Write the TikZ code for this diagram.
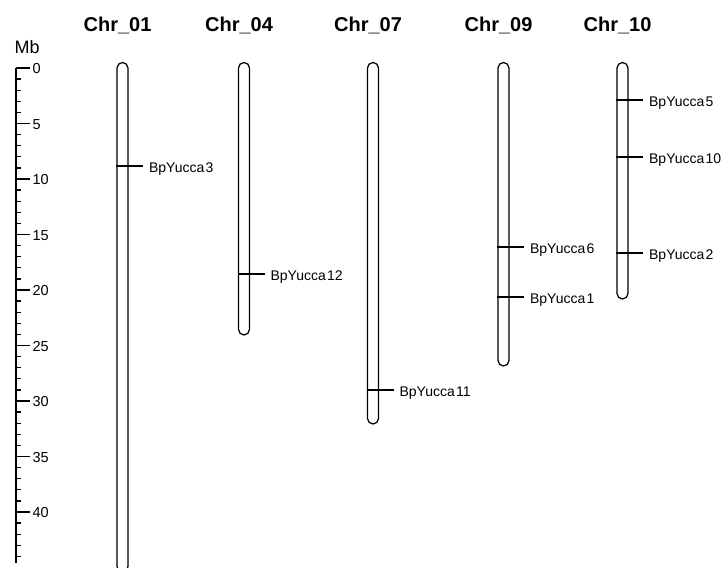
\documentclass[tikz,border=0pt]{standalone}
\usepackage{fontspec}
\setmainfont{Liberation Sans}
\begin{document}
\begin{tikzpicture}[x=1pt,y=-1pt,line width=1.25pt,
  chrom/.style={draw,rounded corners=5.5pt,minimum width=11pt,inner sep=0pt},
  gene/.style={anchor=base west,inner xsep=5.5pt,inner ysep=0pt,font=\fontsize{14}{16}\selectfont},
  chrname/.style={anchor=base,inner sep=0pt,font=\fontsize{20}{22}\selectfont\bfseries},
  ticklab/.style={anchor=base west,inner sep=0pt,font=\fontsize{14.5}{16}\selectfont}]
\path[use as bounding box] (0,0) rectangle (724,568);
\clip (0,0) rectangle (724,568);

% scale bar in Mb (11.1 units per Mb, 0 at y=68)
\node[anchor=base west,inner sep=0pt,font=\fontsize{18}{20}\selectfont] (mb) at (14,53) {Mb};
\draw (16,68) -- (16,563);
\foreach \v in {0,...,44}
  \draw (16,{68+11.1*\v}) -- (21,{68+11.1*\v});
\foreach \v in {0,5,...,40}{
  \draw (16,{68+11.1*\v}) -- (30,{68+11.1*\v});
  \node[ticklab] (t\v) at (32,{68+11.1*\v+5.5}) {\v};
}

% chromosomes: name / centre x / lower end
\foreach \nm/\cx/\bot/\lab in {c01/122.5/572/Chr\_01, c04/244/335/Chr\_04,
    c07/373/424/Chr\_07, c09/503.5/366/Chr\_09, c10/622.5/299/Chr\_10}{
  \node[chrom,minimum height={(\bot-62.5)*1pt}] (\nm) at (\cx,{(\bot+62.5)/2}) {};
  \node[chrname] (h\nm) at ({\cx-5},31) {\lab};
}

% gene loci
\foreach \chr/\id/\y in {c01/3/166, c04/12/274, c07/11/390, c09/6/247, c09/1/297,
    c10/5/100, c10/10/157, c10/2/253}{
  \coordinate (m\id) at (\chr.west |- 0,\y);
  \node[gene] (g\id) at ([xshift=20.5pt,yshift=-6pt]\chr.center |- 0,\y)
    {BpYucca\kern1.3pt\id};
  \draw (m\id) -- (m\id -| g\id.west);
}
\end{tikzpicture}
\end{document}
